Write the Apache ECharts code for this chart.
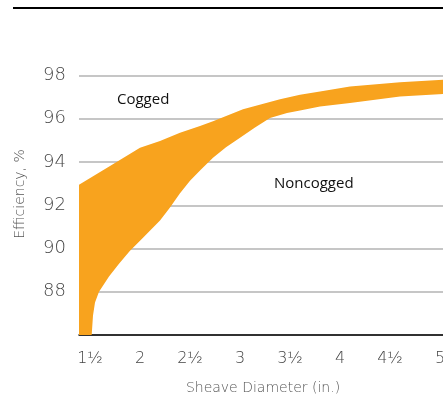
<!DOCTYPE html>
<html>
<head>
<meta charset="utf-8">
<script src="https://cdn.jsdelivr.net/npm/echarts@6/dist/echarts.min.js"></script>
<style>
  html, body { margin: 0; padding: 0; background: #fff; }
  #chart { width: 443px; height: 410px; }
</style>
</head>
<body>
<div id="chart"></div>
<script>
// sheave diameter (in.) / efficiency (%)
var cogX   = [1.5, 1.81, 2.11, 2.31, 2.51, 2.71, 2.84, 3.14, 3.51, 3.71, 3.91, 4.21, 4.71, 5.14];
var cogY   = [92.95, 93.82, 94.66, 94.97, 95.35, 95.66, 95.89, 96.44, 96.9, 97.11, 97.26, 97.49, 97.69, 97.8];
var noncX  = [1.5, 1.627, 1.64, 1.66, 1.7, 1.8, 1.9, 2.01, 2.14, 2.31, 2.41, 2.51, 2.61, 2.72, 2.84, 2.97, 3.11, 3.26, 3.41, 3.58, 3.71, 3.91, 4.21, 4.71, 5.14];
var noncY  = [86, 86, 86.9, 87.5, 88.0, 88.7, 89.3, 89.9, 90.5, 91.29, 91.9, 92.55, 93.13, 93.65, 94.2, 94.68, 95.12, 95.6, 96.04, 96.27, 96.38, 96.57, 96.73, 97.03, 97.14];
var xTickLabels = {1.5: '1½', 2: '2', 2.5: '2½', 3: '3', 3.5: '3½', 4: '4', 4.5: '4½', 5: '5'};

var chart = echarts.init(document.getElementById('chart'));

var upper = cogX.map(function (x, i) { return [x, cogY[i]]; });
var lower = noncX.map(function (x, i) { return [x, noncY[i]]; });

var option = {
  animation: false,
  grid: { left: 79, right: 0, top: 75.5, bottom: 75, outerBoundsMode: 'none', containLabel: false },
  xAxis: {
    type: 'value',
    min: 1.5,
    max: 5.14,
    interval: 0.5,
    axisLine: { show: true, lineStyle: { color: '#000', width: 1.5 } },
    axisTick: { show: false },
    splitLine: { show: false },
    axisLabel: {
      margin: 16,
      padding: [0, 0, 0, 22],
      color: '#444',
      fontSize: 16,
      fontFamily: 'DejaVu Sans',
      fontWeight: 300,
      formatter: function (v) { return xTickLabels[v] || ''; }
    }
  },
  yAxis: {
    type: 'value',
    min: 86,
    max: 98,
    interval: 2,
    axisLine: { show: false },
    axisTick: { show: false },
    splitLine: { lineStyle: { color: '#b3b3b3', width: 1.5 } },
    axisLabel: {
      margin: 13,
      color: '#444',
      fontSize: 18,
      fontFamily: 'DejaVu Sans',
      fontWeight: 300,
      formatter: function (v) { return v === 86 ? '' : v; }
    }
  },
  graphic: [
    { type: 'line', shape: { x1: 13, y1: 8, x2: 443, y2: 8 }, style: { stroke: '#000', lineWidth: 2 } },
    { type: 'text', x: 20, y: 194, rotation: Math.PI / 2,
      style: { text: 'Efficiency, %', fill: '#555', font: '300 14px "DejaVu Sans"', align: 'center', verticalAlign: 'middle' } },
    { type: 'text', x: 263, y: 388,
      style: { text: 'Sheave Diameter (in.)', fill: '#555', font: '300 14px "DejaVu Sans"', align: 'center', verticalAlign: 'middle' } },
    { type: 'text', x: 117, y: 100,
      style: { text: 'Cogged', fill: '#111', font: '15px "Open Sans"', align: 'left', verticalAlign: 'middle' } },
    { type: 'text', x: 274, y: 184,
      style: { text: 'Noncogged', fill: '#111', font: '15px "Open Sans"', align: 'left', verticalAlign: 'middle' } }
  ],
  series: [{
    type: 'custom',
    coordinateSystem: 'cartesian2d',
    data: [0],
    clip: true,
    renderItem: function (params, api) {
      var pts = upper.map(function (p) { return api.coord(p); });
      for (var i = lower.length - 1; i >= 0; i--) pts.push(api.coord(lower[i]));
      return {
        type: 'polygon',
        shape: { points: pts },
        style: { fill: '#F8A31E', stroke: null }
      };
    }
  }]
};
chart.setOption(option);
</script>
</body>
</html>
